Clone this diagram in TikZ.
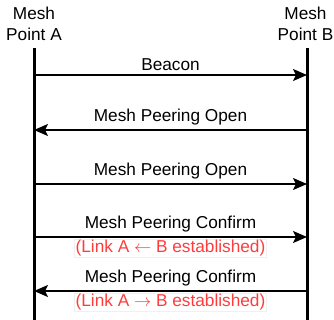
\documentclass[tikz,border=0pt]{standalone}
\usepackage{fontspec}
\setmainfont{Liberation Sans}
\usetikzlibrary{arrows.meta,calc,positioning}
\definecolor{linkred}{RGB}{255,60,60}
\tikzset{
  x=1bp,y=1bp,
  lifeline/.style={line width=3bp},
  msg/.style={line width=1.6bp,-{Stealth[length=14bp,width=12bp,inset=3bp]}},
  head/.style={font=\fontsize{17.3}{20.5}\selectfont,align=center,inner sep=0pt},
  lbl/.style={font=\fontsize{17.3}{20}\selectfont,inner sep=1bp},
  note/.style={font=\fontsize{17.3}{20}\selectfont,text=linkred,draw=gray!12,line width=0.6bp,inner sep=1bp},
}
\begin{document}
\begin{tikzpicture}
\useasboundingbox (0,0) rectangle (334,320);
\node[head] (ha) at (34,296) {Mesh\\Point A};
\node[head] (hb) at (305.5,296) {Mesh\\Point B};
\coordinate (atop) at (34,272);
\coordinate (abot) at (34,0);
\coordinate (btop) at (307,272);
\coordinate (bbot) at (307,0);
\draw[lifeline] (atop) -- (abot);
\draw[lifeline] (btop) -- (bbot);
% messages
\coordinate (a1) at (34,245); \coordinate (b1) at (307,245);
\coordinate (a2) at (34,190); \coordinate (b2) at (307,190);
\coordinate (a3) at (34,136); \coordinate (b3) at (307,136);
\coordinate (a4) at (34,83);  \coordinate (b4) at (307,83);
\coordinate (a5) at (34,29);  \coordinate (b5) at (307,29);
\draw[msg] (a1) -- (b1) node[lbl,midway,above=3bp] (l1) {Beacon};
\draw[msg] (b2) -- (a2) node[lbl,midway,above=3bp] (l2) {Mesh Peering Open};
\draw[msg] (a3) -- (b3) node[lbl,midway,above=3bp] (l3) {Mesh Peering Open};
\draw[msg] (a4) -- (b4) node[lbl,midway,above=3bp] (l4) {Mesh Peering Confirm};
\coordinate (m4) at ($(a4)!0.5!(b4)$);
\node[note,below=2bp of m4] (n4) {(Link A $\leftarrow$ B established)};
\draw[msg] (b5) -- (a5) node[lbl,midway,above=3bp] (l5) {Mesh Peering Confirm};
\coordinate (m5) at ($(a5)!0.5!(b5)$);
\node[note,below=2bp of m5] (n5) {(Link A $\rightarrow$ B established)};
\end{tikzpicture}
\end{document}
